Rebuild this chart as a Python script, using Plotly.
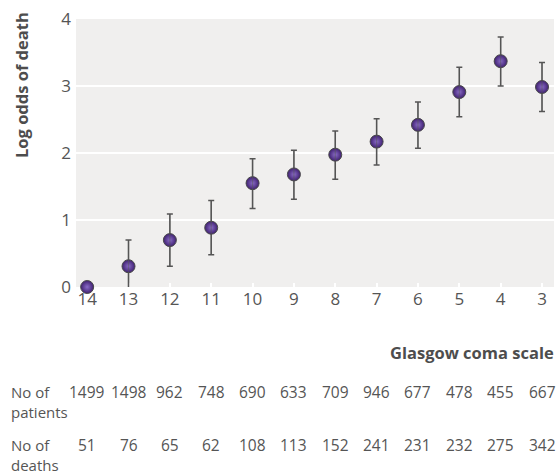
import plotly.graph_objects as go

gcs = [14, 13, 12, 11, 10, 9, 8, 7, 6, 5, 4, 3]
log_odds = [0.0, 0.31, 0.70, 0.885, 1.55, 1.68, 1.975, 2.17, 2.42, 2.91, 3.37, 2.985]
ci_upper = [0.0, 0.70, 1.09, 1.29, 1.915, 2.04, 2.33, 2.51, 2.76, 3.28, 3.73, 3.35]
ci_lower = [0.0, -0.07, 0.31, 0.48, 1.17, 1.31, 1.61, 1.82, 2.07, 2.54, 3.0, 2.62]
patients = [1499, 1498, 962, 748, 690, 633, 709, 946, 677, 478, 455, 667]
deaths = [51, 76, 65, 62, 108, 113, 152, 241, 231, 232, 275, 342]
y_ticks = [0, 1, 2, 3, 4]

err_plus = [u - v for u, v in zip(ci_upper, log_odds)]
err_minus = [v - l for v, l in zip(log_odds, ci_lower)]
has_err = [p > 0 or m > 0 for p, m in zip(err_plus, err_minus)]
ex = [g for g, h in zip(gcs, has_err) if h]
ey = [v for v, h in zip(log_odds, has_err) if h]
ep = [p for p, h in zip(err_plus, has_err) if h]
em = [m for m, h in zip(err_minus, has_err) if h]

TXT = "#555555"
FONT = "Open Sans"

fig = go.Figure()
fig.add_trace(go.Scatter(
    x=ex, y=ey, mode="markers",
    marker=dict(size=0.1, opacity=0),
    error_y=dict(type="data", array=ep, arrayminus=em, symmetric=False,
                 color="#555555", thickness=1.5, width=3),
    cliponaxis=False, showlegend=False, hoverinfo="skip"))
fig.add_trace(go.Scatter(
    x=gcs, y=log_odds, mode="markers",
    marker=dict(size=13, color="#3f2070",
                gradient=dict(type="radial", color="#8a6cc8"),
                line=dict(color="#4a4a4a", width=1)),
    cliponaxis=False, showlegend=False))
# error bar line passing over marker
fig.add_trace(go.Scatter(
    x=ex, y=ey, mode="markers",
    marker=dict(size=0.1, opacity=0),
    error_y=dict(type="data", array=ep, arrayminus=em, symmetric=False,
                 color="rgba(85,85,85,0.5)", thickness=1.2, width=0),
    cliponaxis=False, showlegend=False, hoverinfo="skip"))


def py(px):
    # convert pixel row to paper coordinate (plot area top 19, bottom 287)
    return (287 - px) / (287 - 19)


annotations = []
for g, p, d in zip(gcs, patients, deaths):
    annotations.append(dict(x=g, xref="x", y=py(392), yref="paper", text=str(p),
                            showarrow=False, xanchor="center", yanchor="middle",
                            font=dict(size=15.5, color=TXT, family=FONT)))
    annotations.append(dict(x=g, xref="x", y=py(445), yref="paper", text=str(d),
                            showarrow=False, xanchor="center", yanchor="middle",
                            font=dict(size=15.5, color=TXT, family=FONT)))

annotations += [
    dict(x=0, xref="paper", xshift=-66, y=py(401.5), yref="paper", yanchor="middle",
         xanchor="left", align="left", showarrow=False, text="No of<br>patients",
         borderpad=0, font=dict(size=15, color=TXT, family=FONT)),
    dict(x=0, xref="paper", xshift=-66, y=py(454.5), yref="paper", yanchor="middle",
         xanchor="left", align="left", showarrow=False, text="No of<br>deaths",
         borderpad=0, font=dict(size=15, color=TXT, family=FONT)),
    dict(x=1, xref="paper", xshift=2, y=py(352), yref="paper", yanchor="middle",
         xanchor="right", showarrow=False, text="<b>Glasgow coma scale</b>",
         font=dict(size=16.5, color="#4d4d4d", family=FONT)),
    dict(x=0, xref="paper", xshift=-55, y=py(10), yref="paper", yanchor="top",
         xanchor="center", showarrow=False, textangle=-90,
         text="<b>Log odds of death</b>",
         font=dict(size=16.5, color="#4d4d4d", family=FONT)),
]

fig.update_layout(
    width=558, height=473,
    margin=dict(l=76, r=4, t=19, b=186),
    paper_bgcolor="white", plot_bgcolor="#f0efee",
    font=dict(family=FONT, color=TXT),
    annotations=annotations,
    xaxis=dict(range=[14.27, 2.71], tickmode="array", tickvals=gcs,
               ticktext=[str(g) for g in gcs], showgrid=False, zeroline=False,
               ticks="inside", ticklen=4, tickwidth=2, tickcolor="white",
               layer="below traces",
               tickfont=dict(size=17, color=TXT, family=FONT), showline=False),
    yaxis=dict(range=[0, 4], tickmode="array", tickvals=y_ticks,
               showgrid=True, gridcolor="white", gridwidth=2, zeroline=False,
               ticks="", ticklabelstandoff=4, layer="below traces",
               tickfont=dict(size=17, color=TXT, family=FONT), showline=False),
)

fig.write_html("out.html", config={"displayModeBar": False})

# remove default browser body margin so the figure fills the window
with open("out.html", "r", encoding="utf-8") as f:
    html = f.read()
html = html.replace("<head>", "<head><style>html,body{margin:0;padding:0;overflow:hidden;}</style>", 1)
with open("out.html", "w", encoding="utf-8") as f:
    f.write(html)
